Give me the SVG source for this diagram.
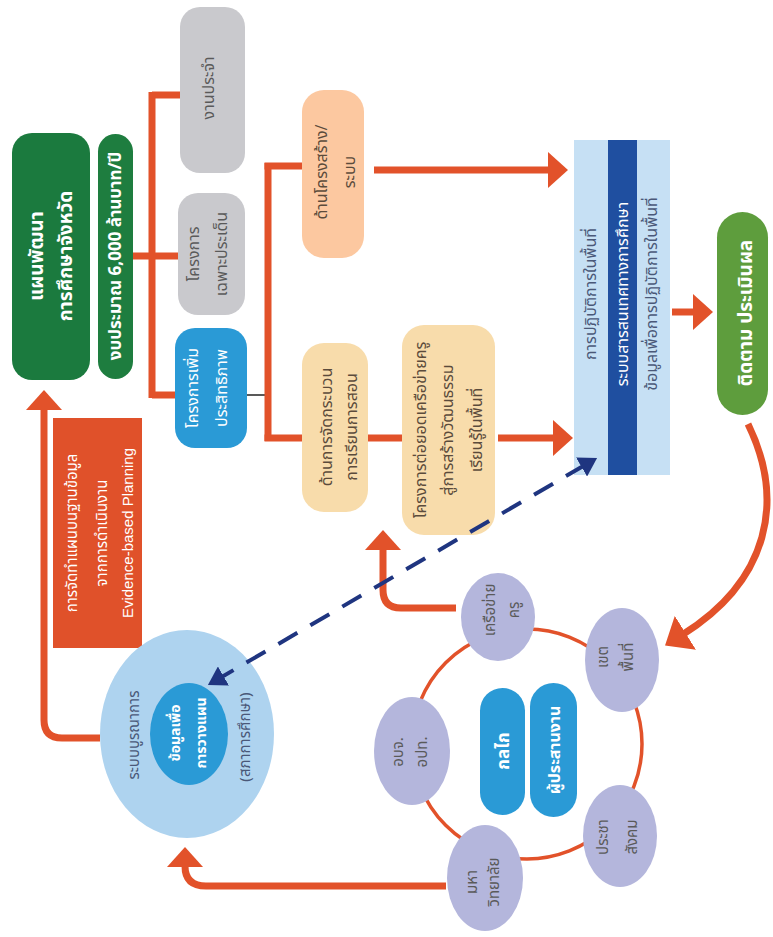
<svg xmlns="http://www.w3.org/2000/svg" width="773" height="937" viewBox="0 0 773 937">
<style>
.t{font-family:"Noto Sans Thai","Noto Sans","DejaVu Sans",sans-serif;text-anchor:middle}
.w{fill:#ffffff}
.wb{fill:#ffffff;font-weight:bold}
.g{fill:#5a5a5a}
.br{fill:#5b4b3b}
.bl{fill:#4a5878}
.ln{fill:none;stroke:#e2522a;stroke-width:7}
.dash{fill:none;stroke:#1f3580;stroke-width:4;stroke-dasharray:22 15}
.en{font-family:"Liberation Sans",Arial,sans-serif;text-anchor:middle}
</style>
<defs>
<marker id="ah" viewBox="0 0 20 36" markerWidth="20" markerHeight="36" refX="4" refY="18" orient="auto" markerUnits="userSpaceOnUse"><path d="M0 0 L20 18 L0 36 Z" fill="#e2522a"/></marker>
<marker id="ahb" viewBox="0 0 24 40" markerWidth="24" markerHeight="40" refX="4" refY="20" orient="auto" markerUnits="userSpaceOnUse"><path d="M0 0 L24 20 L0 40 Z" fill="#e2522a"/></marker>
<marker id="nv" viewBox="0 0 18 22" markerWidth="18" markerHeight="22" refX="4" refY="11" orient="auto-start-reverse" markerUnits="userSpaceOnUse"><path d="M0 0 L18 11 L0 22 Z" fill="#1f3580"/></marker>
</defs>
<rect width="773" height="937" fill="#ffffff"/>

<g id="plan">
<rect x="12" y="133" width="78" height="247" rx="20" fill="#1b7a3e"/>
<text class="t wb" font-size="19" transform="translate(51 256) rotate(-90)"><tspan x="0" y="-8">แผนพัฒนา</tspan><tspan x="0" y="21">การศึกษาจังหวัด</tspan></text>
</g>
<g id="budget">
<rect x="98" y="134" width="35" height="245" rx="17.5" fill="#1e7d3f"/>
<text class="t wb" font-size="17" transform="translate(115 256) rotate(-90)" y="6">งบประมาณ 6,000 ล้านบาท/ปี</text>
</g>
<g id="routine">
<rect x="180" y="7" width="65" height="166" rx="20" fill="#c9c9cd"/>
<text class="t g" font-size="16" transform="translate(212 88) rotate(-90)" y="2">งานประจำ</text>
</g>
<g id="special">
<rect x="178" y="193" width="67" height="122" rx="20" fill="#c9c9cd"/>
<text class="t g" font-size="16" transform="translate(211 254) rotate(-90)"><tspan x="0" y="-12">โครงการ</tspan><tspan x="0" y="16">เฉพาะประเด็น</tspan></text>
</g>
<g id="efficiency">
<rect x="175" y="328" width="72" height="120" rx="20" fill="#2a9ad6"/>
<text class="t w" font-size="16" transform="translate(211 388) rotate(-90)"><tspan x="0" y="-13">โครงการเพิ่ม</tspan><tspan x="0" y="16">ประสิทธิภาพ</tspan></text>
</g>
<g id="structure">
<rect x="302" y="90" width="62" height="168" rx="22" fill="#fcc8a0"/>
<text class="t br" font-size="16" transform="translate(332 172) rotate(-90)"><tspan x="0" y="-5">ด้านโครงสร้าง/</tspan><tspan x="0" y="23">ระบบ</tspan></text>
</g>
<g id="teaching">
<rect x="302" y="343" width="66" height="169" rx="22" fill="#f8dcab"/>
<text class="t br" font-size="16" transform="translate(335 427) rotate(-90)"><tspan x="0" y="-3">ด้านการจัดกระบวน</tspan><tspan x="0" y="22">การเรียนการสอน</tspan></text>
</g>
<g id="network-project">
<rect x="402" y="325" width="93" height="210" rx="22" fill="#f8dcab"/>
<text class="t br" font-size="16" transform="translate(448 430) rotate(-90)"><tspan x="0" y="-22">โครงการต่อยอดเครือข่ายครู</tspan><tspan x="0" y="5">สู่การสร้างวัฒนธรรม</tspan><tspan x="0" y="34">เรียนรู้ในพื้นที่</tspan></text>
</g>
<g id="operation">
<rect x="574" y="140" width="96" height="335" fill="#c6e0f4"/>
<rect x="608" y="140" width="29" height="335" fill="#1f4fa0"/>
<text class="t" font-size="16" transform="translate(622 294) rotate(-90)"><tspan class="bl" x="0" y="-26">การปฏิบัติการในพื้นที่</tspan><tspan class="w" x="0" y="6">ระบบสารสนเทศทางการศึกษา</tspan><tspan class="bl" x="0" y="35">ข้อมูลเพื่อการปฏิบัติการในพื้นที่</tspan></text>
</g>
<g id="evaluate">
<rect x="717" y="212" width="51" height="203" rx="25.5" fill="#5e9d3d"/>
<text class="t wb" font-size="19" transform="translate(742 313) rotate(-90)" y="10">ติดตาม ประเมินผล</text>
</g>
<g id="evidence">
<rect x="53" y="418" width="89" height="230" fill="#e0512a"/>
<text class="t w" font-size="15" transform="translate(97 533) rotate(-90)"><tspan x="0" y="-20">การจัดทำแผนบนฐานข้อมูล</tspan><tspan x="0" y="10">จากการดำเนินงาน</tspan></text>
<text class="en w" font-size="15" transform="translate(97 533) rotate(-90)" y="36">Evidence-based Planning</text>
</g>
<g id="integration">
<ellipse cx="187" cy="734" rx="87" ry="104" fill="#aed3ef"/>
<ellipse cx="189" cy="734" rx="39" ry="51" fill="#2a9ad6"/>
<text class="t bl" font-size="15" transform="translate(134 735) rotate(-90)" y="5">ระบบบูรณาการ</text>
<text class="t bl" font-size="15" transform="translate(245 737) rotate(-90)" y="5">(สภาการศึกษา)</text>
<text class="t wb" font-size="14" transform="translate(189 733) rotate(-90)"><tspan x="0" y="-9">ข้อมูลเพื่อ</tspan><tspan x="0" y="17">การวางแผน</tspan></text>
</g>
<g id="ring">
<circle cx="527" cy="744" r="115" fill="none" stroke="#e2522a" stroke-width="3.5"/>
</g>
<g id="teacher-network">
<ellipse cx="498" cy="617" rx="37" ry="44" fill="#b4b6dc"/>
<text class="t g" font-size="15" transform="translate(502 610) rotate(-90)"><tspan x="0" y="-7">เครือข่าย</tspan><tspan x="0" y="17">ครู</tspan></text>
</g>
<g id="area">
<ellipse cx="622" cy="660" rx="37" ry="52" fill="#b4b6dc"/>
<text class="t g" font-size="15" transform="translate(615 657) rotate(-90)"><tspan x="0" y="-7">เขต</tspan><tspan x="0" y="18">พื้นที่</tspan></text>
</g>
<g id="local-gov">
<ellipse cx="412" cy="751" rx="38" ry="54" fill="#b4b6dc"/>
<text class="t g" font-size="15" transform="translate(410 752) rotate(-90)"><tspan x="0" y="-7">อบจ.</tspan><tspan x="0" y="17">อปท.</tspan></text>
</g>
<g id="civil-society">
<ellipse cx="620" cy="836" rx="37" ry="51" fill="#b4b6dc"/>
<text class="t g" font-size="15" transform="translate(617 837) rotate(-90)"><tspan x="0" y="-9">ประชา</tspan><tspan x="0" y="20">สังคม</tspan></text>
</g>
<g id="university">
<ellipse cx="485" cy="878" rx="38" ry="53" fill="#b4b6dc"/>
<text class="t g" font-size="15" transform="translate(483 882) rotate(-90)"><tspan x="0" y="-6">มหา</tspan><tspan x="0" y="16">วิทยาลัย</tspan></text>
</g>
<g id="mechanism">
<rect x="480" y="688" width="45" height="127" rx="22.5" fill="#2a9ad6"/>
<text class="t wb" font-size="17" transform="translate(503 751) rotate(-90)" y="6">กลไก</text>
</g>
<g id="coordinator">
<rect x="530" y="683" width="47" height="134" rx="23.5" fill="#2a9ad6"/>
<text class="t wb" font-size="16" transform="translate(554 750) rotate(-90)" y="6">ผู้ประสานงาน</text>
</g>

<g id="connectors">
<path class="ln" d="M152 92 V398"/>
<path class="ln" d="M152 95 H180"/>
<path class="ln" d="M133 256 H178"/>
<path class="ln" d="M152 395 H175"/>
<path d="M247 395 H268" stroke="#222" stroke-width="1.5" fill="none"/>
<path class="ln" d="M268 163 V441"/>
<path class="ln" d="M264.5 166 H302"/>
<path class="ln" d="M264.5 438 H302"/>
<path class="ln" d="M368 438 H402"/>
<path class="ln" d="M374 170 H552" marker-end="url(#ah)"/>
<path class="ln" d="M498 438 H557" marker-end="url(#ah)"/>
<path class="ln" d="M672 312 H697" marker-end="url(#ah)"/>
<path class="ln" d="M748 424 C785 500 770 580 682 635" marker-end="url(#ahb)"/>
<path class="ln" d="M456 608 H401 Q383 608 383 590 V546" marker-end="url(#ah)"/>
<path class="ln" d="M446 886 H206 Q185 886 185 866 V863" marker-end="url(#ah)"/>
<path class="ln" d="M100 738 H62 Q44 738 44 720 V406" marker-end="url(#ah)"/>
<path class="dash" d="M585 465 L220 678" marker-start="url(#nv)" marker-end="url(#nv)"/>
</g>
</svg>
